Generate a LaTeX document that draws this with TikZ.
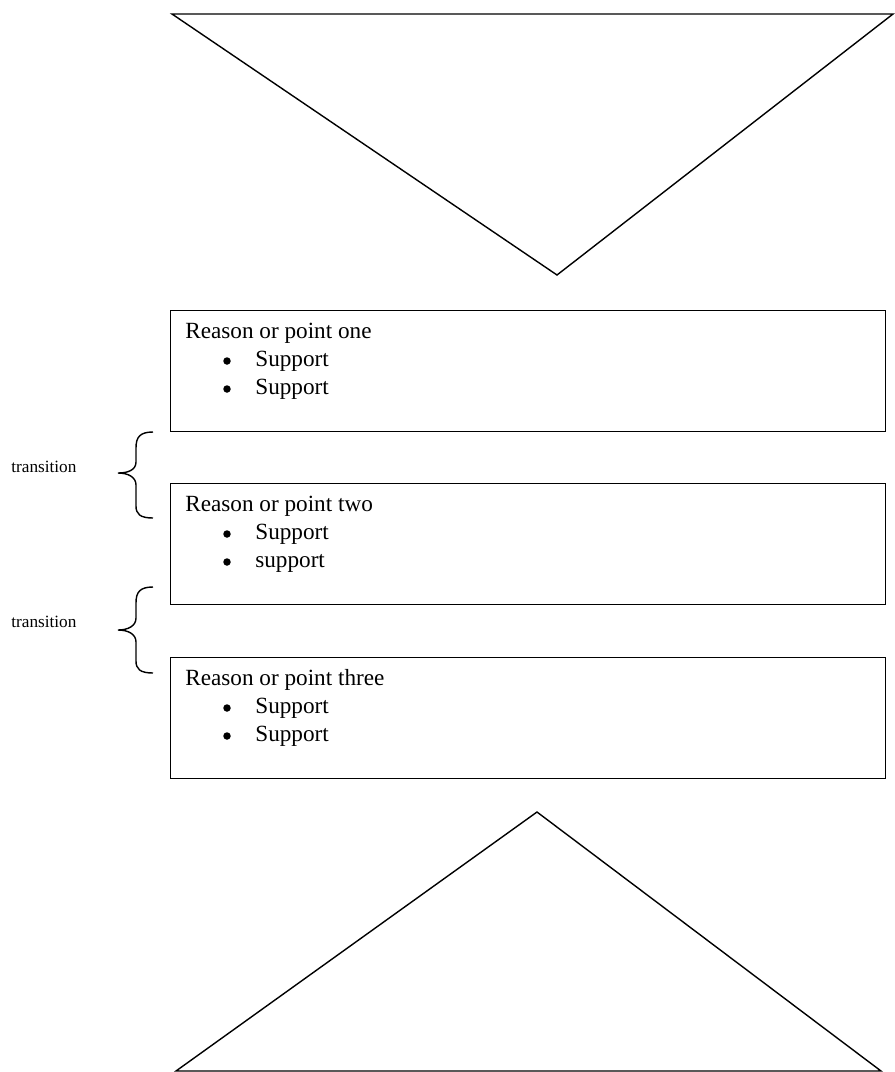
\documentclass[tikz,border=0pt]{standalone}
\usepackage{fontspec}
\setmainfont{Liberation Serif}

\begin{document}
\begin{tikzpicture}[x=0.2mm, y=-0.2mm,
    outline/.style={draw=black, line width=0.8pt},
    reasonbox/.style={draw=black, line width=0.8pt, anchor=north west,
        minimum width=143mm, minimum height=24.2mm, inner sep=0pt},
    linetext/.style={anchor=base west, inner sep=0pt, font=\fontsize{13.2}{15}\selectfont},
    dot/.style={circle, fill=black, inner sep=0pt, minimum size=1.5mm},
    transtext/.style={anchor=west, inner sep=0pt, font=\fontsize{9.8}{11}\selectfont},
    bracket/.style={draw=black, line width=0.8pt}]
    \useasboundingbox (0,0) rectangle (895,1072);

    % Introduction funnel
    \draw[outline] (172,14) -- (893,14) -- (557,275) -- cycle;

    % Reason boxes
    \node[reasonbox] (box1) at (170,310) {};
    \node[reasonbox] (box2) at (170,483) {};
    \node[reasonbox] (box3) at (170,657) {};

    % Box contents
    \node[linetext] (head1) at ([shift={(15,28)}]box1.north west) {Reason or point one};
    \node[dot] (bul1a) at ([shift={(57,51)}]box1.north west) {};
    \node[linetext] (sup1a) at ([shift={(85,56)}]box1.north west) {Support};
    \node[dot] (bul1b) at ([shift={(57,79)}]box1.north west) {};
    \node[linetext] (sup1b) at ([shift={(85,84)}]box1.north west) {Support};

    \node[linetext] (head2) at ([shift={(15,28)}]box2.north west) {Reason or point two};
    \node[dot] (bul2a) at ([shift={(57,51)}]box2.north west) {};
    \node[linetext] (sup2a) at ([shift={(85,56)}]box2.north west) {Support};
    \node[dot] (bul2b) at ([shift={(57,79)}]box2.north west) {};
    \node[linetext] (sup2b) at ([shift={(85,84)}]box2.north west) {support};

    \node[linetext] (head3) at ([shift={(15,28)}]box3.north west) {Reason or point three};
    \node[dot] (bul3a) at ([shift={(57,51)}]box3.north west) {};
    \node[linetext] (sup3a) at ([shift={(85,56)}]box3.north west) {Support};
    \node[dot] (bul3b) at ([shift={(57,79)}]box3.north west) {};
    \node[linetext] (sup3b) at ([shift={(85,84)}]box3.north west) {Support};

    % Transitions
    \coordinate (brace1top) at (153,432);
    \coordinate (brace1bot) at (153,518);
    \coordinate (brace2top) at (153,587);
    \coordinate (brace2bot) at (153,673);
    \draw[bracket] (brace1top) .. controls (140,432) and (136,437) .. (136,448)
        -- (136,462) .. controls (136,470) and (128,473) .. (118,473)
        .. controls (128,473) and (136,477) .. (136,485)
        -- (136,506) .. controls (136,514) and (140,518) .. (brace1bot);
    \draw[bracket] (brace2top) .. controls (140,587) and (136,592) .. (136,603)
        -- (136,618) .. controls (136,626) and (128,630) .. (118,630)
        .. controls (128,630) and (136,634) .. (136,642)
        -- (136,661) .. controls (136,669) and (140,673) .. (brace2bot);
    \node[transtext] (trans1) at (11,467) {transition};
    \node[transtext] (trans2) at (11,622) {transition};

    % Conclusion funnel
    \draw[outline] (537,812) -- (881,1071) -- (176,1071) -- cycle;
\end{tikzpicture}
\end{document}
